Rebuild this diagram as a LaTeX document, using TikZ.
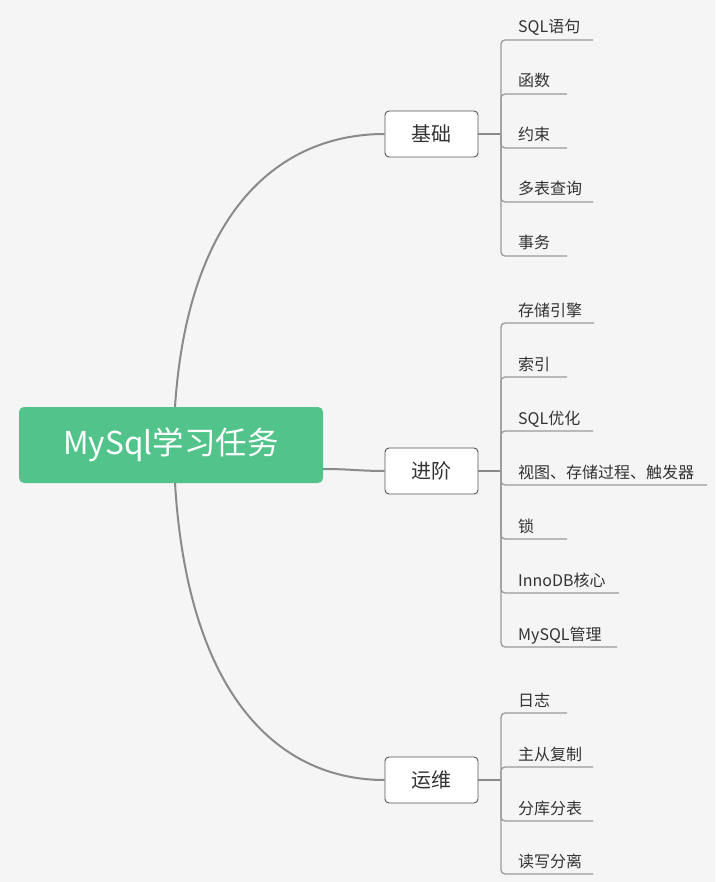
\documentclass[tikz,border=0pt]{standalone}
\usepackage{fontspec}
\setmainfont{Noto Sans CJK SC}
\definecolor{bgc}{HTML}{F5F5F5}
\definecolor{rootc}{HTML}{52C48B}
\definecolor{mainline}{HTML}{8A8A8A}
\definecolor{subline}{HTML}{9A9A9A}
\definecolor{txt}{HTML}{333333}
\definecolor{boxline}{HTML}{555555}
\begin{document}
\begin{tikzpicture}[x=1pt,y=-1pt,
  rootbox/.style={fill=rootc,rounded corners=5pt,minimum width=304pt,minimum height=76pt,inner sep=0pt,text=white,font=\fontsize{31.5}{32}\selectfont},
  midbox/.style={draw=boxline,line width=0.9pt,fill=white,rounded corners=4pt,minimum width=93pt,minimum height=46pt,inner sep=0pt,text=txt,font=\fontsize{20}{20}\selectfont},
  leaf/.style={anchor=base west,inner sep=0pt,text=txt,font=\fontsize{16}{16}\selectfont},
  mainconn/.style={draw=mainline,line width=2pt},
  subconn/.style={draw=subline,line width=1.3pt,rounded corners=4pt}]
\fill[bgc] (0,0) rectangle (715,882);
\useasboundingbox (0,0) rectangle (715,882);

\node[rootbox] (root) at (171,445) {MySql学习任务};
\node[midbox] (b1) at (431.5,134) {基础};
\node[midbox] (b2) at (431.5,471) {进阶};
\node[midbox] (b3) at (431.5,780) {运维};

\coordinate (rt) at (175,407);
\coordinate (rb) at (175,483);
\coordinate (rr) at (323,469);
\draw[mainconn] (rt) .. controls (188,210) and (280,134) .. (b1.west);
\draw[mainconn] (rr) .. controls (350,469) and (360,471) .. (b2.west);
\draw[mainconn] (rb) .. controls (188,698) and (280,780) .. (b3.west);

% junctions
\coordinate (j1) at (501,134);
\coordinate (j2) at (501,471);
\coordinate (j3) at (501,780);
\draw[mainconn,line width=1.8pt] (b1.east) -- (j1);
\draw[mainconn,line width=1.8pt] (b2.east) -- (j2);
\draw[mainconn,line width=1.8pt] (b3.east) -- (j3);

% group 1
\foreach \n/\y/\e/\t in {a1/40/593/SQL语句, a2/94/567/函数, a3/148/567/约束, a4/202/593/多表查询, a5/256/567/事务}{
  \node[leaf] (\n) at (518,\y-7) {\t};
  \coordinate (\n e) at (\e,\y);
  \draw[subconn] (j1) |- (\n e);
}
% group 2
\foreach \n/\y/\e/\t in {c1/323/594/存储引擎, c2/377/567/索引, c3/431/593/SQL优化, c4/485/707/视图、存储过程、触发器, c5/539/567/锁, c6/593/619/InnoDB核心, c7/647/617/MySQL管理}{
  \node[leaf] (\n) at (518,\y-7) {\t};
  \coordinate (\n e) at (\e,\y);
  \draw[subconn] (j2) |- (\n e);
}
% group 3
\foreach \n/\y/\e/\t in {d1/713/567/日志, d2/767/593/主从复制, d3/821/593/分库分表, d4/874/593/读写分离}{
  \node[leaf] (\n) at (518,\y-7) {\t};
  \coordinate (\n e) at (\e,\y);
  \draw[subconn] (j3) |- (\n e);
}
\end{tikzpicture}
\end{document}
